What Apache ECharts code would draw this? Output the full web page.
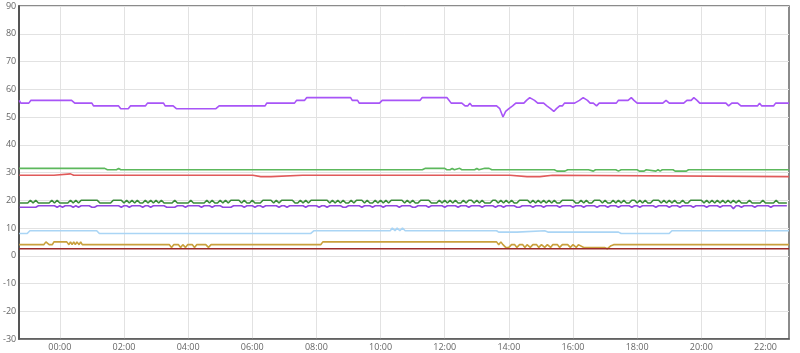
<!DOCTYPE html>
<html><head><meta charset="utf-8">
<script src="https://cdn.jsdelivr.net/npm/echarts@6/dist/echarts.min.js"></script>
<style>html,body{margin:0;padding:0;background:#fff}#c{width:800px;height:353px}</style>
</head><body><div id="c"></div>
<script>
// time in minutes relative to 00:00 (negative = previous evening)
const xMin = -76, xMax = 1364;
const xTickMinutes = [0,120,240,360,480,600,720,840,960,1080,1200,1320];
const yTicks = [-30,-20,-10,0,10,20,30,40,50,60,70,80,90];

// irregular [minute, value] series
const violetTop = [[-76,56],[-73,55],[-58,55],[-54,56],[22,56],[28,55],[60,55],[63,54],[110,54],[114,53],[128,53],[132,54],[160,54],[164,55],[194,55],[197,54],[212,54],[218,53],[292,53],[298,54],[384,54],[387,55],[439,55],[443,56],[458,56],[462,57],[544,57],[547,56],[557,56],[560,55],[598,55],[603,56],[674,56],[678,57],[724,57],[728,56],[732,55],[752,55],[758,54],[763,54],[767,55],[771,54],[817,54],[823,53],[827,51],[829,50],[834,52],[840,53],[847,54],[853,55],[868,55],[873,56],[879,57],[888,56],[894,55],[905,55],[911,54],[918,53],[924,52],[929,53],[935,54],[940,54],[944,55],[963,55],[972,56],[979,57],[987,56],[992,55],[998,55],[1004,54],[1009,55],[1041,55],[1045,56],[1063,56],[1069,57],[1074,56],[1080,55],[1128,55],[1134,56],[1140,55],[1167,55],[1173,56],[1181,56],[1186,57],[1192,56],[1197,55],[1246,55],[1251,54],[1257,55],[1268,55],[1274,54],[1305,54],[1309,55],[1313,54],[1335,54],[1339,55],[1364,55]];
const greenLight = [[-76,31.5],[84,31.5],[89,31],[106,31],[110,31.5],[114,31],[678,31],[684,31.5],[706,31.5],[709,31],[712,31.5],[715,31],[720,31.5],[724,31],[730,31],[734,31.5],[738,31],[748,31.5],[752,31],[776,31],[780,31.5],[784,31],[795,31.5],[803,31.5],[808,31],[925,31],[930,30.5],[945,30.5],[950,31],[989,31],[992,30.5],[998,30.5],[1002,31],[1017,31],[1020,30.5],[1024,31],[1032,31],[1035,30.5],[1040,31],[1045,30.5],[1050,31],[1080,31],[1084,30.5],[1093,30.5],[1097,31],[1100,30.5],[1115,30.5],[1119,31],[1123,30.5],[1127,31],[1147,31],[1151,30.5],[1172,30.5],[1176,31],[1179,30.5],[1184,31],[1364,31]];
const redLine = [[-76,29],[-64,29],[-61,29.5],[-58,29],[-11,29],[-8,29.5],[20,29.5],[23,29],[26,29],[29,29.5],[32,29],[36,29],[39,29.5],[42,29],[60,29],[63,29.5],[66,29],[361,29],[364,28.5],[376,28.5],[379,29],[383,28.5],[395,28.5],[398,29],[454,29],[457,28.5],[460,29],[842,29],[845,28.5],[874,28.5],[877,29],[880,28.5],[898,28.5],[901,29],[922,29],[925,28.5],[1364,28.5]];
const blueLight = [[-76,8],[-61,8],[-56,9],[69,9],[74,8],[469,8],[475,9],[618,9],[622,10],[627,9],[631,10],[636,9],[641,10],[646,9],[817,9],[821,8.5],[855,8.5],[858,9],[907,9],[914,8.5],[1045,8.5],[1050,8],[1140,8],[1145,9],[1364,9]];
const goldLine = [[-76,4],[-30,4],[-26,5],[-20,4],[-14,4],[-11,5],[13,5],[17,4],[20,5],[23,4],[26,5],[29,4],[32,5],[36,4],[39,5],[42,4],[205,4],[209,3],[213,4],[222,4],[226,3],[230,4],[235,3],[239,4],[248,4],[252,3],[256,4],[273,4],[278,3],[283,4],[488,4],[492,5],[817,5],[821,4],[825,5],[829,4],[834,3],[840,3],[845,4],[851,4],[855,3],[860,4],[866,4],[870,3],[874,4],[880,3],[885,4],[892,4],[896,3],[901,4],[907,3],[912,4],[918,3],[922,4],[931,4],[935,3],[940,4],[950,4],[955,3],[960,4],[966,3],[970,4],[980,3],[1013,3],[1019,3],[1024,2.5],[1030,3.5],[1036,4],[1364,4]];
const darkRed = [[-76,2.5],[1364,2.5]];

// regular 5-minute series starting at -75 min
const regStart = -75, regStep = 5;
const greenDark = [
19,19,19,19,20,19,20,19,19,19, 19,19,20,19,20,19,19,19,19,20, 19,20,19,20,20,20,20,20,20,20,
19,19,19,19,19,20,20,20,20,19, 20,19,20,19,20,19,19,20,19,20, 19,20,19,20,19,19,19,19,20,19,
19,19,19,19,20,19,19,19,19,19, 20,19,20,19,19,20,19,20,19,20, 20,20,20,19,20,19,19,20,19,19,
19,20,20,20,20,19,20,19,20,20, 20,20,20,19,19,20,19,20,19,20, 20,20,20,20,20,20,19,20,19,20,
19,20,19,19,20,19,20,20,20,19, 20,19,19,20,19,20,19,20,19,20, 20,20,20,20,19,20,19,20,19,19,
20,20,20,20,19,19,19,20,19,20, 19,20,19,20,19,19,20,19,20,20, 19,20,19,20,19,19,19,20,20,19,
20,19,20,19,20,19,19,20,20,20, 20,19,20,19,20,19,20,19,20,19, 20,19,19,20,20,20,20,20,19,19,
20,19,20,19,19,20,20,20,19,20, 19,19,20,19,20,19,20,19,19,20, 20,19,20,19,20,19,19,20,20,20,
19,20,19,20,19,20,19,19,20,19, 19,20,20,20,20,20,19,20,19,20, 19,20,19,20,19,20,19,20,19,20,
19,19,19,20,19,19,19,19,20,19, 19,19,19,20,19,19,19,19];
const violetDark = [
17.5,17.5,17.5,17.5,17.5,17.5,17.5,18,18,18, 18,18,18,18,17.5,18,17.5,18,18,18, 17.5,18,17.5,18,18,18,18,17.5,17.5,18,
18,18,18,18,18,18,18,18,17.5,18, 18,17.5,18,18,18,18,17.5,18,18,17.5, 18,18,18,18,18,17.5,17.5,17.5,17.5,18,
18,18,17.5,18,18,18,18,18,17.5,18, 18,18,17.5,18,18,18,17.5,17.5,17.5,17.5, 18,18,18,18,17.5,18,18,18,17.5,18,
18,17.5,18,18,18,18,18,17.5,18,18, 17.5,18,18,18,18,18,18,17.5,18,18, 18,18,17.5,18,18,17.5,18,18,18,18,
18,17.5,17.5,18,18,18,18,18,17.5,18, 18,18,17.5,18,18,18,17.5,18,18,18, 18,18,17.5,18,18,18,18,17.5,17.5,18,
18,18,18,17.5,18,18,18,18,18,17.5, 18,18,18,18,17.5,18,18,18,17.5,18, 18,18,18,17.5,18,18,18,18,17.5,18,
18,17.5,18,18,18,18,17.5,17.5,18,18, 18,18,17.5,18,18,18,17.5,18,18,18, 18,18,17.5,18,18,18,18,17.5,18,18,
18,17.5,18,18,18,18,17.5,18,18,18, 17.5,18,18,18,17.5,18,18,18,18,17.5, 18,18,17.5,18,18,18,18,18,17.5,18,
18,18,18,17.5,18,18,18,17.5,18,18, 18,18,17.5,18,18,18,18,17.5,18,18, 18,18,17.5,18,18,18,18,17,18,18,
17.5,18,18,18,18,17.5,18,18,18,18, 18,17.5,18,18,18,18,18,18];

function toPairs(vals){ return vals.map((v,i)=>[regStart + i*regStep, v]); }
function fmt(m){ const h=((Math.round(m/60)%24)+24)%24; return (h<10?'0':'')+h+':00'; }

const chart = echarts.init(document.getElementById('c'), null, {renderer:'canvas'});
function line(name, data, color, z){
  return {name, type:'line', data, showSymbol:false, symbol:'none', z:z||2,
    lineStyle:{color, width:1.6}, itemStyle:{color}, animation:false};
}
chart.setOption({
  animation:false,
  backgroundColor:'#fff',
  grid:{left:15, right:11, top:6, bottom:14, show:true, borderColor:'#666', borderWidth:1.5, backgroundColor:'transparent'},
  xAxis:{type:'value', min:xMin, max:xMax,
    axisLine:{show:true, onZero:false, lineStyle:{color:'#555', width:1.5}},
    axisTick:{show:false, customValues:xTickMinutes},
    axisLabel:{customValues:xTickMinutes, formatter:fmt, fontSize:9, color:'#666', margin:4, fontFamily:'Open Sans'},
    splitLine:{show:true, lineStyle:{color:'#e2e2e2', width:1}}},
  yAxis:{type:'value', min:-30, max:90, interval:10,
    axisLine:{show:true, onZero:false, lineStyle:{color:'#555', width:2}},
    axisTick:{show:false},
    axisLabel:{fontSize:9, color:'#666', margin:3, fontFamily:'Open Sans'},
    splitLine:{show:true, lineStyle:{color:'#e2e2e2', width:1}}},
  series:[
    line('violetTop', violetTop, '#a855f7'),
    line('greenLight', greenLight, '#5cb85c'),
    line('red', redLine, '#e05a5a'),
    line('violetDark', toPairs(violetDark), '#9146e0'),
    line('greenDark', toPairs(greenDark), '#3a8a3a', 3),
    line('blueLight', blueLight, '#aad5f5'),
    line('gold', goldLine, '#c9a03c'),
    line('darkRed', darkRed, '#9c2b2b')
  ]
});
</script></body></html>
